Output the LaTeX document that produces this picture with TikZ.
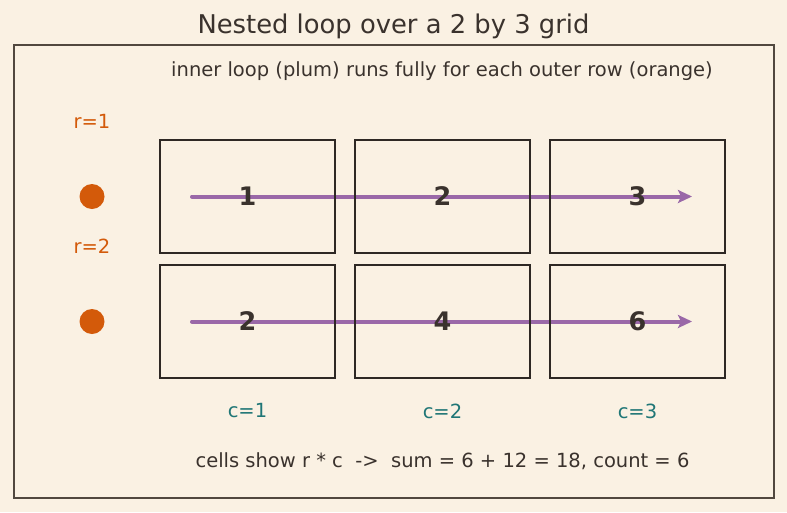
\documentclass[tikz,border=0pt]{standalone}
\usepackage{fontspec}
\setmainfont{DejaVu Sans}
\usetikzlibrary{arrows.meta}

\definecolor{paper}{HTML}{FAF1E3}
\definecolor{ink}{HTML}{3A322D}
\definecolor{edge}{HTML}{2E2824}
\definecolor{framec}{HTML}{51483F}
\definecolor{plum}{HTML}{9A68A8}
\definecolor{rowc}{HTML}{D35A0A}
\definecolor{colc}{HTML}{1F7676}

\tikzset{
  cell/.style={draw=edge,line width=2.4pt,minimum width=175pt,minimum height=113pt,
    inner sep=0pt,text=ink,font=\bfseries\fontsize{25.5}{25.5}\selectfont},
  rowlabel/.style={text=rowc,font=\fontsize{19.5}{19.5}\selectfont},
  collabel/.style={text=colc,font=\fontsize{19.5}{19.5}\selectfont},
  rowdot/.style={circle,fill=rowc,minimum size=25pt,inner sep=0pt},
  loop arrow/.style={draw=plum,line width=4pt,line cap=round,-{Stealth[length=14pt,width=13pt,inset=3pt]}},
}

\begin{document}
\begin{tikzpicture}[x=1pt,y=-1pt]
  \fill[paper] (0,0) rectangle (787,512);
  \draw[framec,line width=1.6pt] (14,45) rectangle (774,498);

  \node[text=ink,font=\fontsize{25.8}{25.8}\selectfont] (title) at (393.5,26) {Nested loop over a 2 by 3 grid};
  \node[text=ink,font=\fontsize{19.5}{19.5}\selectfont] (subtitle) at (442,71) {inner loop (plum) runs fully for each outer row (orange)};

  % arrows first, grid of r*c on top
  \foreach \r/\y in {1/196.5,2/321.5}{
    \coordinate (in\r) at (192,\y);
    \coordinate (out\r) at (692,\y);
    \draw[loop arrow] (in\r) -- (out\r);
    \node[rowdot] (dot\r) at (92,\y) {};
    \node[rowlabel] (r\r) at (92,\y-75) {r=\r};
    \foreach \c/\x in {1/247.5,2/442.5,3/637.5}{
      \pgfmathtruncatemacro\val{\r*\c}
      \node[cell] (cell\r\c) at (\x,\y) {\val};
    }
  }

  \foreach \c/\x in {1/247.5,2/442.5,3/637.5}
    \node[collabel] (c\c) at (\x,411) {c=\c};

  \node[text=ink,font=\fontsize{19.5}{19.5}\selectfont] (summary) at (442.5,461) {cells show r * c \ ->\ \ sum = 6 + 12 = 18, count = 6};
\end{tikzpicture}
\end{document}
